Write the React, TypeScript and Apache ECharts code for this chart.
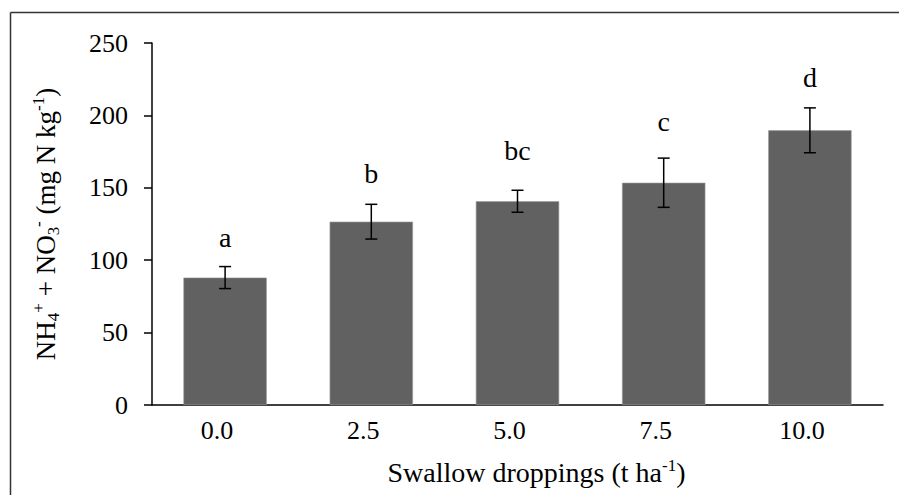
import React, { useEffect, useRef } from "react";
import * as echarts from "echarts";

const categories = ["0.0", "2.5", "5.0", "7.5", "10.0"];
const values = [88, 126.6, 140.7, 153.5, 189.7];
const errors = [7.6, 12, 7.6, 17, 15.5];
const letters = ["a", "b", "bc", "c", "d"];
const letterPos = [116, 160, 175.7, 196, 226.4];
const yTicks = [0, 50, 100, 150, 200, 250];

const FONT = "'Liberation Serif', 'Times New Roman', serif";

export default function App() {
  const ref = useRef<HTMLDivElement>(null);
  useEffect(() => {
    if (!ref.current) return;
    const chart = echarts.init(ref.current, undefined, { renderer: "svg" });
    chart.setOption({
      animation: false,
      backgroundColor: "#ffffff",
      textStyle: { fontFamily: FONT, color: "#000" },
      grid: { left: 152, right: 16, top: 43, bottom: 90 },
      graphic: [
        { type: "line", shape: { x1: 10.5, y1: 12.5, x2: 899, y2: 12.5 }, style: { stroke: "#333", lineWidth: 1.5 } },
        { type: "line", shape: { x1: 10.5, y1: 12.5, x2: 10.5, y2: 495 }, style: { stroke: "#333", lineWidth: 1.5 } },
      ],
      xAxis: {
        type: "category",
        data: categories,
        axisLine: { lineStyle: { color: "#000", width: 1.5 } },
        axisTick: { show: false },
        axisLabel: { fontFamily: FONT, fontSize: 26, color: "#000", margin: 12, padding: [0, 16, 0, 0] },
        name: "{n|Swallow droppings (t ha}{sup|-1}{n|)}",
        nameLocation: "middle",
        nameGap: 52,
        nameTextStyle: {
          fontFamily: FONT,
          color: "#000",
          padding: [0, 0, 0, 38],
          rich: {
            n: { fontFamily: FONT, fontSize: 28, color: "#000", lineHeight: 30 },
            sup: { fontFamily: FONT, fontSize: 17, color: "#000", lineHeight: 17, verticalAlign: "top" },
          },
        },
      },
      yAxis: {
        type: "value",
        min: 0,
        max: 250,
        interval: 50,
        axisLine: { show: true, lineStyle: { color: "#000", width: 1.5 } },
        axisTick: { show: true, length: 8, inside: false, lineStyle: { color: "#000", width: 1.5 } },
        splitLine: { show: false },
        axisLabel: {
          fontFamily: FONT,
          fontSize: 26,
          color: "#000",
          margin: 24,
          formatter: (v: number) => (yTicks.includes(v) ? String(v) : ""),
        },
        name: "{n|NH}{sub|4}{sup|+}{n| + NO}{sub|3}{sup|-}{n| (mg N kg}{sup|-1}{n|)}",
        nameLocation: "middle",
        nameGap: 90,
        nameTextStyle: {
          fontFamily: FONT,
          color: "#000",
          rich: {
            n: { fontFamily: FONT, fontSize: 27, color: "#000", lineHeight: 32 },
            sup: { fontFamily: FONT, fontSize: 17, color: "#000", lineHeight: 17, verticalAlign: "top" },
            sub: { fontFamily: FONT, fontSize: 17, color: "#000", lineHeight: 17, verticalAlign: "bottom" },
          },
        },
      },
      series: [
        {
          type: "bar",
          data: values,
          barWidth: "57%",
          itemStyle: { color: "#616161", borderColor: "#9a9a9a", borderWidth: 0.6 },
          z: 2,
        },
        {
          type: "custom",
          z: 5,
          data: values.map((v, i) => [i, v - errors[i], v + errors[i], letterPos[i]]),
          renderItem: (params: any, api: any) => {
            const i = api.value(0);
            const lo = api.coord([i, api.value(1)]);
            const hi = api.coord([i, api.value(2)]);
            const lp = api.coord([i, api.value(3)]);
            const x = lo[0];
            const hw = 6;
            const st = { stroke: "#000", lineWidth: 1.5 };
            return {
              type: "group",
              children: [
                { type: "line", shape: { x1: x, y1: lo[1], x2: x, y2: hi[1] }, style: st },
                { type: "line", shape: { x1: x - hw, y1: lo[1], x2: x + hw, y2: lo[1] }, style: st },
                { type: "line", shape: { x1: x - hw, y1: hi[1], x2: x + hw, y2: hi[1] }, style: st },
                {
                  type: "text",
                  x: x,
                  y: lp[1],
                  style: {
                    text: letters[params.dataIndex],
                    fontFamily: FONT,
                    fontSize: 28,
                    fill: "#000",
                    align: "center",
                    verticalAlign: "middle",
                  },
                },
              ],
            };
          },
        },
      ],
    });
    return () => chart.dispose();
  }, []);
  return <div ref={ref} style={{ width: 899, height: 495, position: "absolute", left: 0, top: 0 }} />;
}
